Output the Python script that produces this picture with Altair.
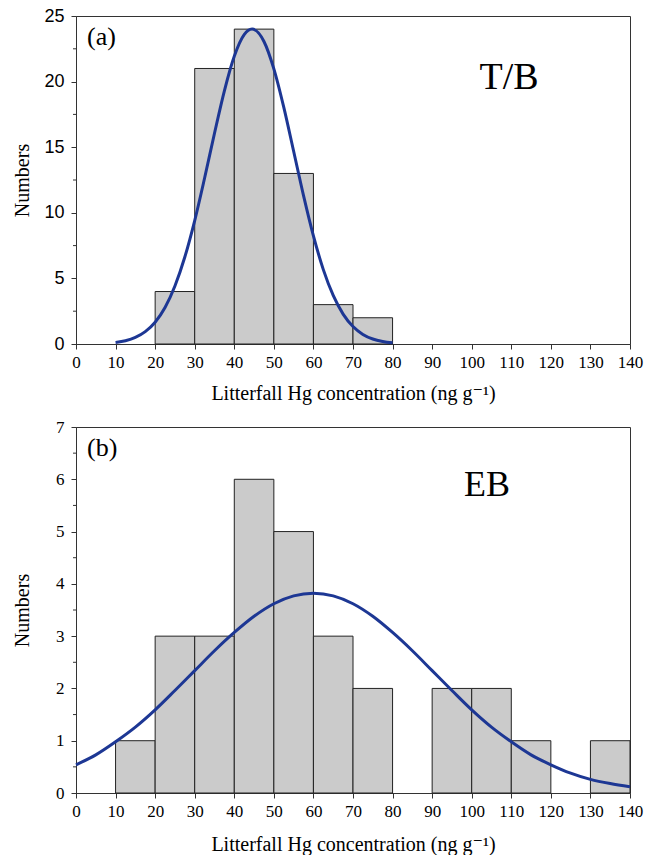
import altair as alt
import pandas as pd

# ---------------- data ----------------
x_ticks = [0, 10, 20, 30, 40, 50, 60, 70, 80, 90, 100, 110, 120, 130, 140]

# Panel (a): T/B
a_bin_start = [20, 30, 40, 50, 60, 70]
a_bin_end = [30, 40, 50, 60, 70, 80]
a_counts = [4, 21, 24, 13, 3, 2]
a_curve_x = [10, 12.5, 15, 17.5, 20, 22.5, 25, 27.5, 30, 32.5, 35, 37.5, 40, 42.5,
             44.5, 47.5, 50, 52.5, 55, 57.5, 60, 62.5, 65, 67.5, 70, 72.5, 75, 77.5, 80]
a_curve_y = [0.12, 0.25, 0.50, 0.94, 1.66, 2.78, 4.42, 6.63, 9.41, 12.65, 16.06, 19.30, 21.93, 23.58,
             24.0, 23.06, 20.97, 18.05, 14.69, 11.31, 8.24, 5.67, 3.70, 2.28, 1.33, 0.73, 0.38, 0.19, 0.09]
a_y_ticks = [0, 5, 10, 15, 20, 25]
a_y_minor = [2.5, 7.5, 12.5, 17.5, 22.5]

# Panel (b): EB
b_bin_start = [10, 20, 30, 40, 50, 60, 70, 90, 100, 110, 130]
b_bin_end = [20, 30, 40, 50, 60, 70, 80, 100, 110, 120, 140]
b_counts = [1, 3, 3, 6, 5, 3, 2, 2, 2, 1, 1]
b_curve_x = [0, 5, 10, 15, 20, 25, 30, 35, 40, 45, 50, 55, 60, 65, 70, 75, 80,
             85, 90, 95, 100, 105, 110, 115, 120, 125, 130, 135, 140]
b_curve_y = [0.54, 0.73, 0.98, 1.26, 1.59, 1.96, 2.34, 2.72, 3.07, 3.38, 3.62, 3.77, 3.82, 3.77,
             3.62, 3.38, 3.07, 2.72, 2.34, 1.96, 1.59, 1.26, 0.98, 0.73, 0.54, 0.38, 0.26, 0.18, 0.12]
b_y_ticks = [0, 1, 2, 3, 4, 5, 6, 7]
b_y_minor = [0.5, 1.5, 2.5, 3.5, 4.5, 5.5, 6.5]

x_title = "Litterfall Hg concentration (ng g\u207b\u00b9)"
SERIF = "Liberation Serif, Times New Roman, DejaVu Serif, serif"
SANS = "Liberation Sans, Arial, DejaVu Sans, sans-serif"
CURVE = "#1d3794"
HATCH = "#cbcbcb"


def panel(starts, ends, counts, cx, cy, yticks, yminor, ymax, width, height,
          ylab_font, ylab_size, tag, name, name_x, name_y, name_size, title_y):
    xs = alt.Scale(domain=[0, 140], nice=False, zero=False)
    ys = alt.Scale(domain=[0, ymax], nice=False)
    xaxis = alt.Axis(values=x_ticks, format="d", title=x_title, labelFont=SERIF, labelFontSize=17,
                     titleFont=SERIF, titleFontSize=20, titleFontWeight="normal",
                     titleY=title_y, titleBaseline="alphabetic", tickSize=5,
                     labelPadding=5, grid=False, labelColor="black", titleColor="black",
                     domainColor="#333", tickColor="#333", labelFlush=False, labelOverlap=False)
    yaxis = alt.Axis(values=yticks, format="d", title="Numbers", labelFont=ylab_font,
                     labelFontSize=ylab_size,
                     titleFont=SERIF, titleFontSize=20, titleFontWeight="normal",
                     titleX=-54, titleY=height / 2, titleBaseline="middle", titleAngle=-90,
                     titleAlign="center", tickSize=5, labelPadding=7, grid=False,
                     labelColor="black", titleColor="black", domainColor="#333", tickColor="#333",
                     labelOverlap=False)

    bars_df = pd.DataFrame({"start": starts, "end": ends, "count": counts})
    curve_df = pd.DataFrame({"x": cx, "y": cy})
    minor_df = pd.DataFrame({"m": yminor})

    bars = alt.Chart(bars_df).mark_rect(fill=HATCH, stroke="#222", strokeWidth=1).encode(
        x=alt.X("start:Q", scale=xs, axis=xaxis),
        x2="end:Q",
        y=alt.Y("count:Q", scale=ys, axis=yaxis),
        y2=alt.datum(0),
    )
    curve = alt.Chart(curve_df).mark_line(color=CURVE, strokeWidth=3, interpolate="monotone").encode(
        x=alt.X("x:Q", scale=xs, axis=xaxis),
        y=alt.Y("y:Q", scale=ys, axis=yaxis),
    )
    minor = alt.Chart(minor_df).mark_rule(color="#333", strokeWidth=1).encode(
        y=alt.Y("m:Q", scale=ys, axis=yaxis),
        x=alt.value(-3),
        x2=alt.value(0),
    )
    tag_t = alt.Chart(pd.DataFrame({"t": [tag]})).mark_text(
        font=SERIF, fontSize=26, align="left", baseline="middle", color="black"
    ).encode(text="t:N", x=alt.value(11), y=alt.value(21))
    name_t = alt.Chart(pd.DataFrame({"t": [name]})).mark_text(
        font=SERIF, fontSize=name_size, align="center", baseline="middle", color="black"
    ).encode(text="t:N", x=alt.value(name_x), y=alt.value(name_y))
    return alt.layer(bars, curve, minor, tag_t, name_t).properties(width=width, height=height)


top = panel(a_bin_start, a_bin_end, a_counts, a_curve_x, a_curve_y, a_y_ticks, a_y_minor, 25,
            554, 328, SANS, 18, "(a)", "T/B", 433, 62, 38, 55)
bottom = panel(b_bin_start, b_bin_end, b_counts, b_curve_x, b_curve_y, b_y_ticks, b_y_minor, 7,
               554, 366, SERIF, 17, "(b)", "EB", 411, 58, 36, 57)

chart = alt.vconcat(top, bottom, spacing=13).properties(
    padding={"left": 11, "top": 6, "right": 0, "bottom": 0},
    background="white",
).configure_view(stroke="#333", strokeWidth=1).configure_axisX(
    labelFont=SERIF, titleFont=SERIF
)

chart.save("out.html", embed_options={"renderer": "svg", "actions": False})
